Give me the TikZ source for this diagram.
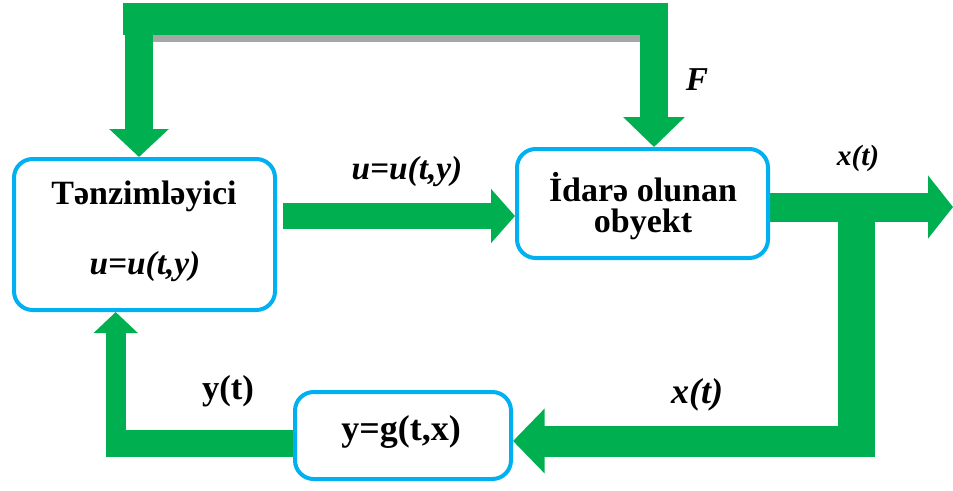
\documentclass[tikz,border=0pt]{standalone}
\usepackage{fontspec}
\setmainfont{Liberation Serif}
\usetikzlibrary{arrows.meta,calc,backgrounds}
\definecolor{fg}{HTML}{00B050}
\definecolor{bl}{HTML}{00B0F0}
\definecolor{sh}{HTML}{A6A6A6}
\definecolor{dg}{HTML}{00753A}
\begin{document}
\begin{tikzpicture}[x=0.75pt,y=-0.75pt,
 blk/.style={draw=bl, line width=3pt, rounded corners=14pt, fill=white, inner sep=0pt},
 btxt/.style={font=\bfseries\fontsize{25.5}{30}\selectfont, inner sep=0pt},
 itxt/.style={font=\bfseries\itshape\fontsize{25}{30}\selectfont, inner sep=0pt},
 fat/.style={draw=fg, line width=#1},
]
\useasboundingbox (0,0) rectangle (953,490);

% boxes
\node[blk, minimum width=195.75pt, minimum height=113.25pt] (b1) at (144.5,234.5) {};
\node[blk, minimum width=188.25pt, minimum height=81.75pt] (b2) at (642.5,203.5) {};
\node[blk, minimum width=162pt, minimum height=65.25pt] (b3) at (403,435.5) {};

% helper coordinates
\coordinate (tl) at (139,20);
\coordinate (tr) at (654,20);
\coordinate (m) at (283,216);
\coordinate (o) at (953,207);
\coordinate (br) at (856.3,207);
\coordinate (bc) at (875,441);
\coordinate (fh) at (105.7,443.5);
\coordinate (fv) at (115.7,456.7);

\begin{pgfonlayer}{background}
% top feed bar
\fill[sh] (153,35) rectangle (640,42);
\fill[fg] (123,3) rectangle (668,35);
\fill[dg] (640,35) rectangle (668,41);
% connectors
\draw[fat=21pt, -{Triangle[length=21pt,width=43.5pt]}] (tl) -- (tl |- b1.north);
\draw[fat=21pt, -{Triangle[length=22.5pt,width=45pt]}] (tr) -- (tr |- b2.north);
\draw[fat=19.5pt, -{Triangle[length=18pt,width=39.75pt]}] (m) -- (m -| b2.west);
\draw[fat=21.75pt, -{Triangle[length=18.75pt,width=46.5pt]}] (o -| b2.east) -- (o);
\draw[fat=28pt] (br) -- (br |- fv);
\draw[fat=23.25pt, -{Triangle[length=23.7pt,width=47.25pt]}] (bc) -- (bc -| b3.east);
\draw[fat=20.25pt] (b3.west |- fh) -- (fh);
\draw[fat=15pt, -{Triangle[length=15.75pt,width=32.25pt]}] (fv) -- (fv |- b1.south);
\end{pgfonlayer}

% box texts
\node[btxt] (t1) at (144,196) {Tənzimləyici};
\node[itxt] (t2) at (145,267) {u=u(t,y)};
\node[btxt] (t3) at (643,187) {İdarə olunan};
\node[btxt] (t4) at (643,224) {obyekt};
\node[btxt, font=\bfseries\fontsize{27}{30}\selectfont] (t5) at (401,432) {y=g(t,x)};

% labels
\node[itxt] (l1) at (407,172) {u=u(t,y)};
\node[itxt] (lF) at (697,80) {F};
\node[itxt, font=\bfseries\itshape\fontsize{22}{26}\selectfont] (lx1) at (858,158) {x(t)};
\node[btxt, font=\bfseries\fontsize{26}{30}\selectfont] (ly) at (228,391) {y(t)};
\node[itxt, font=\bfseries\itshape\fontsize{27}{30}\selectfont] (lx2) at (697,395) {x(t)};
\end{tikzpicture}
\end{document}
